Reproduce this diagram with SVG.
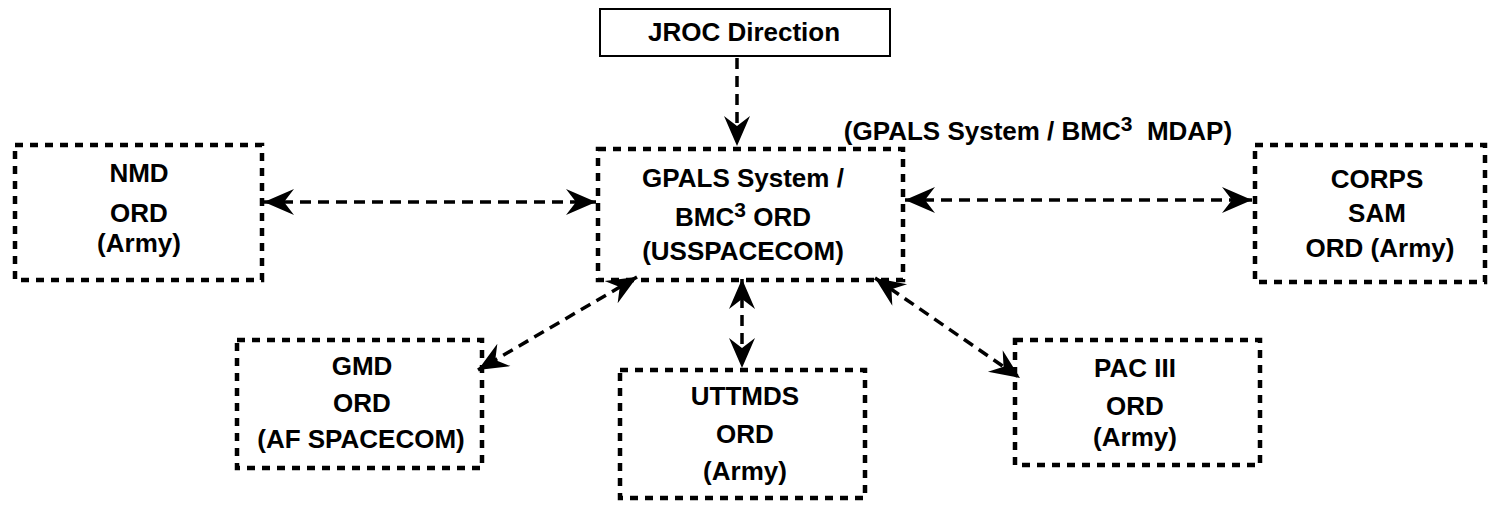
<svg xmlns="http://www.w3.org/2000/svg" width="1490" height="505" viewBox="0 0 1490 505">
<style>
  text { font-family: "Liberation Sans", Arial, sans-serif; font-weight: bold; font-size: 26px; fill: #000; text-anchor: middle; }
  .box { fill: none; stroke: #000; stroke-width: 4.5; stroke-dasharray: 8 7; }
  .solid { fill: #fff; stroke: #000; stroke-width: 2; }
  .conn { fill: none; stroke: #000; stroke-width: 3.5; stroke-dasharray: 11 7; }
  .sup { font-size: 21px; }
</style>
<defs>
  <marker id="arr" viewBox="-32 -15 34 30" refX="0" refY="0" markerWidth="34" markerHeight="30" markerUnits="userSpaceOnUse" orient="auto-start-reverse">
    <path d="M0,0 L-30,-13 L-20,0 L-30,13 Z" fill="#000"/>
  </marker>
</defs>
<rect width="1490" height="505" fill="#fff"/>
<g id="connectors">
  <line class="conn" x1="737" y1="58" x2="737" y2="146" marker-end="url(#arr)"/>
  <line class="conn" x1="264" y1="202" x2="596" y2="202" marker-start="url(#arr)" marker-end="url(#arr)"/>
  <line class="conn" x1="905" y1="200" x2="1252" y2="200" marker-start="url(#arr)" marker-end="url(#arr)"/>
  <line class="conn" x1="637" y1="277" x2="478" y2="370" marker-start="url(#arr)" marker-end="url(#arr)"/>
  <line class="conn" x1="742" y1="279" x2="742" y2="368" marker-start="url(#arr)" marker-end="url(#arr)"/>
  <line class="conn" x1="875" y1="278" x2="1020" y2="378" marker-start="url(#arr)" marker-end="url(#arr)"/>
</g>
<g id="jroc">
  <rect class="solid" x="600" y="9" width="290" height="47"/>
  <text x="744" y="41">JROC Direction</text>
</g>
<g id="mdap-label">
  <text x="1038" y="140" xml:space="preserve">(GPALS System / BMC<tspan class="sup" dy="-9">3</tspan><tspan dy="9">  MDAP)</tspan></text>
</g>
<g id="gpals">
  <rect class="box" x="598" y="149" width="305" height="131"/>
  <text x="743" y="187">GPALS System /</text>
  <text x="743" y="226">BMC<tspan class="sup" dy="-9">3</tspan><tspan dy="9"> ORD</tspan></text>
  <text x="743" y="260">(USSPACECOM)</text>
</g>
<g id="nmd">
  <rect class="box" x="15" y="145" width="247" height="135"/>
  <text x="139" y="182">NMD</text>
  <text x="139" y="222">ORD</text>
  <text x="139" y="252">(Army)</text>
</g>
<g id="corps">
  <rect class="box" x="1255" y="145" width="230" height="137"/>
  <text x="1377" y="188">CORPS</text>
  <text x="1377" y="222">SAM</text>
  <text x="1380" y="257">ORD (Army)</text>
</g>
<g id="gmd">
  <rect class="box" x="237" y="340" width="245" height="128"/>
  <text x="362" y="375">GMD</text>
  <text x="362" y="412">ORD</text>
  <text x="361" y="448">(AF SPACECOM)</text>
</g>
<g id="uttmds">
  <rect class="box" x="620" y="370" width="245" height="128"/>
  <text x="745" y="405">UTTMDS</text>
  <text x="745" y="443">ORD</text>
  <text x="745" y="480">(Army)</text>
</g>
<g id="pac3">
  <rect class="box" x="1015" y="340" width="245" height="125"/>
  <text x="1135" y="377">PAC III</text>
  <text x="1135" y="415">ORD</text>
  <text x="1135" y="446">(Army)</text>
</g>
</svg>
